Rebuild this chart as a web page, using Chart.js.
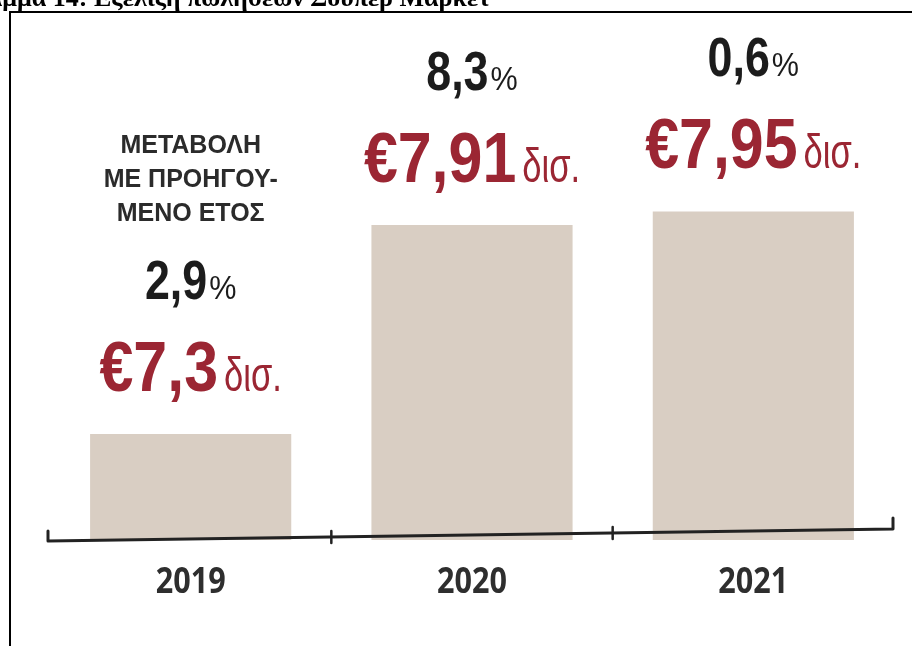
<!DOCTYPE html>
<html lang="el">
<head>
<meta charset="utf-8">
<title>Εξέλιξη πωλήσεων Σούπερ Μάρκετ</title>
<script src="https://cdn.jsdelivr.net/npm/chart.js@4/dist/chart.umd.min.js"></script>
<style>
    html, body { margin: 0; padding: 0; background: #ffffff; }
    canvas { display: block; }
</style>
</head>
<body>
<canvas id="salesChart" width="912" height="646"></canvas>
<script>
// Данные графика
const chartTitle = 'Διάγραμμα 14: Εξέλιξη πωλήσεων Σούπερ Μάρκετ';
const years = ['2019', '2020', '2021'];
const salesBn = [7.3, 7.91, 7.95];
const changePct = [2.9, 8.3, 0.6];
const noteLines = ['ΜΕΤΑΒΟΛΗ', 'ΜΕ ΠΡΟΗΓΟΥ-', 'ΜΕΝΟ ΕΤΟΣ'];

const BAR_COLOR = '#d9cec3';
const RED = '#9b2633';
const DARK = '#1c1c1c';

// Число с запятой вместо точки
function fmt(v) {
    return String(v).replace('.', ',');
}

// Ширина текста с горизонтальным сжатием
function textWidth(ctx, text, font, sx) {
    ctx.font = font;
    return ctx.measureText(text).width * sx;
}

// Рисуем текст, сжатый по горизонтали
function drawScaled(ctx, text, x, y, font, sx, color) {
    ctx.save();
    ctx.font = font;
    ctx.fillStyle = color;
    ctx.textAlign = 'left';
    ctx.textBaseline = 'alphabetic';
    ctx.translate(x, y);
    ctx.scale(sx, 1);
    ctx.fillText(text, 0, 0);
    ctx.restore();
}

// Две части подписи (крупная + мелкая), центрированные по x
function drawPair(ctx, cx, y, big, bigFont, bigSx, small, smallFont, smallSx, gap, color) {
    const w1 = textWidth(ctx, big, bigFont, bigSx);
    const w2 = textWidth(ctx, small, smallFont, smallSx);
    const start = cx - (w1 + gap + w2) / 2;
    drawScaled(ctx, big, start, y, bigFont, bigSx, color);
    drawScaled(ctx, small, start + w1 + gap, y, smallFont, smallSx, color);
}

// Рамка и обрезанный заголовок сверху
const framePlugin = {
    id: 'frame',
    beforeDraw(chart) {
        const ctx = chart.ctx;
        ctx.save();
        ctx.fillStyle = '#ffffff';
        ctx.fillRect(0, 0, chart.width, chart.height);
        ctx.strokeStyle = '#000000';
        ctx.lineWidth = 2;
        ctx.beginPath();
        ctx.moveTo(10, chart.height + 2);
        ctx.lineTo(10, 12);
        ctx.lineTo(chart.width + 2, 12);
        ctx.stroke();
        ctx.font = 'bold 26px "Liberation Serif"';
        ctx.fillStyle = '#000000';
        ctx.textAlign = 'right';
        ctx.fillText(chartTitle, 490, 6);
        ctx.restore();
    }
};

// Ось, годы и подписи над столбцами
const labelsPlugin = {
    id: 'barLabels',
    afterDatasetsDraw(chart) {
        const ctx = chart.ctx;
        const area = chart.chartArea;
        const xScale = chart.scales.x;
        const bars = chart.getDatasetMeta(0).data;

        // Слегка наклонная линия оси с засечками
        const x0 = area.left - 2, y0 = area.bottom + 1;
        const x1 = area.right - 1, y1 = area.bottom - 11;
        const lineY = x => y0 + (y1 - y0) * (x - x0) / (x1 - x0);
        ctx.save();
        ctx.strokeStyle = '#222222';
        ctx.lineWidth = 3;
        ctx.lineJoin = 'round';
        ctx.lineCap = 'round';
        ctx.beginPath();
        ctx.moveTo(x0, y0 - 10);
        ctx.lineTo(x0, y0);
        ctx.lineTo(x1, y1);
        ctx.lineTo(x1, y1 - 11);
        ctx.stroke();
        ctx.lineWidth = 2.5;
        for (let i = 0; i < years.length - 1; i++) {
            const bx = (xScale.getPixelForValue(i) + xScale.getPixelForValue(i + 1)) / 2;
            const by = lineY(bx);
            ctx.beginPath();
            ctx.moveTo(bx, by - 6);
            ctx.lineTo(bx, by + 6);
            ctx.stroke();
        }
        ctx.restore();

        bars.forEach((bar, i) => {
            // Год под осью
            const yearFont = 'bold 36px "Open Sans"';
            const yw = textWidth(ctx, years[i], yearFont, 0.85);
            drawScaled(ctx, years[i], bar.x - yw / 2, area.bottom + 53, yearFont, 0.85, '#2e2e2e');

            // Сумма продаж
            const redBase = bar.y - 43;
            drawPair(ctx, bar.x, redBase,
                '€' + fmt(salesBn[i]), 'bold 70px "Liberation Sans"', 0.87,
                'δισ.', '48px "Liberation Sans"', 0.72, 6, RED);

            // Изменение к предыдущему году
            const pctBase = redBase - 92;
            drawPair(ctx, bar.x, pctBase,
                fmt(changePct[i]), 'bold 56px "Liberation Sans"', 0.8,
                '%', '34px "Liberation Sans"', 0.9, 2, DARK);

            // Пояснение над первым процентом
            if (i === 0) {
                ctx.save();
                ctx.font = 'bold 25px "Liberation Sans"';
                ctx.fillStyle = '#2b2b2b';
                ctx.textAlign = 'center';
                noteLines.forEach((line, k) => {
                    ctx.fillText(line, bar.x, pctBase - 78 - (noteLines.length - 1 - k) * 34);
                });
                ctx.restore();
            }
        });
    }
};

// Создаем график
function createSalesChart(canvasId) {
    const canvas = document.getElementById(canvasId);
    if (!canvas) return;

    canvas.chart = new Chart(canvas, {
        type: 'bar',
        data: {
            labels: years,
            datasets: [{
                data: salesBn,
                backgroundColor: BAR_COLOR,
                borderWidth: 0,
                categoryPercentage: 1,
                barPercentage: 0.715
            }]
        },
        options: {
            responsive: false,
            animation: false,
            layout: {
                padding: { left: 50, right: 18, top: 30, bottom: 106 }
            },
            plugins: {
                legend: { display: false },
                tooltip: { enabled: false }
            },
            scales: {
                x: { display: false },
                y: { display: false, min: 6.99, max: 8.48 }
            }
        },
        plugins: [framePlugin, labelsPlugin]
    });

    return canvas.chart;
}

createSalesChart('salesChart');
</script>
</body>
</html>
